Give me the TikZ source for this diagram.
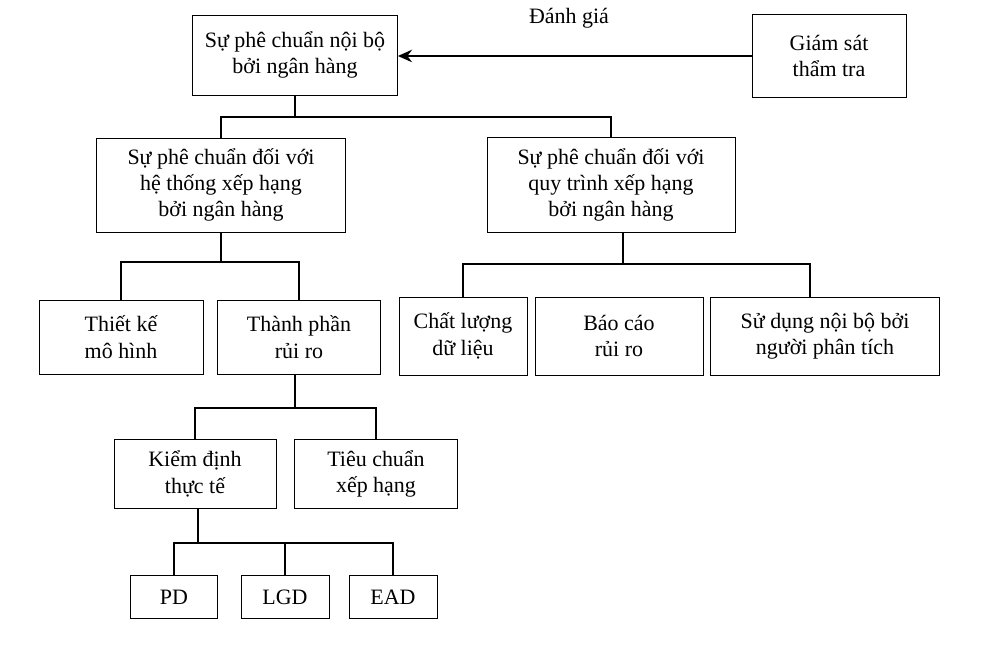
\documentclass[tikz,border=0pt]{standalone}
\usepackage{fontspec}
\setmainfont{Liberation Serif}
\usetikzlibrary{positioning,arrows.meta}
\begin{document}
\begin{tikzpicture}[x=0.02cm, y=-0.02cm, >=stealth,
  box/.style={draw, thin, align=center, inner sep=2pt, font=\fontsize{12.5}{15}\selectfont},
  link/.style={line width=1.3pt}]
\useasboundingbox (0,0) rectangle (993,648);

% Tang tren
\node[box, minimum width=205*0.02cm, minimum height=80*0.02cm] (noibo) at (295,55) {Sự phê chuẩn nội bộ\\bởi ngân hàng};
\node[box, minimum width=154*0.02cm, minimum height=83*0.02cm] (giamsat) at (829,56) {Giám sát\\thẩm tra};
\node[font=\fontsize{12.5}{15}\selectfont] (danhgia) at (569,18) {Đánh giá};

% Tang hai
\node[box, minimum width=249*0.02cm, minimum height=94*0.02cm] (hethong) at (221,185) {Sự phê chuẩn đối với\\hệ thống xếp hạng\\bởi ngân hàng};
\node[box, minimum width=248*0.02cm, minimum height=95*0.02cm] (quytrinh) at (611,185) {Sự phê chuẩn đối với\\quy trình xếp hạng\\bởi ngân hàng};

% Tang ba
\node[box, minimum width=164*0.02cm, minimum height=74*0.02cm] (thietke) at (121,337) {Thiết kế\\mô hình};
\node[box, minimum width=163*0.02cm, minimum height=74*0.02cm] (thanhphan) at (299,337) {Thành phần\\rủi ro};
\node[box, minimum width=128*0.02cm, minimum height=78*0.02cm] (chatluong) at (463,336) {Chất lượng\\dữ liệu};
\node[box, minimum width=168*0.02cm, minimum height=78*0.02cm] (baocao) at (619,336) {Báo cáo\\rủi ro};
\node[box, minimum width=229*0.02cm, minimum height=78*0.02cm] (sudung) at (825,336) {Sử dụng nội bộ bởi\\người phân tích};

% Tang bon
\node[box, minimum width=162*0.02cm, minimum height=69*0.02cm] (kiemdinh) at (195,474) {Kiểm định\\thực tế};
\node[box, minimum width=163*0.02cm, minimum height=69*0.02cm] (tieuchuan) at (376,474) {Tiêu chuẩn\\xếp hạng};

% Tang nam
\node[box, minimum width=87*0.02cm, minimum height=43*0.02cm] (pd) at (174,597) {PD};
\node[box, minimum width=88*0.02cm, minimum height=43*0.02cm] (lgd) at (285,597) {LGD};
\node[box, minimum width=88*0.02cm, minimum height=43*0.02cm] (ead) at (393,597) {EAD};

% Mui ten danh gia
\draw[-{Stealth[length=8pt,width=7pt]}, link] (giamsat.west) -- (giamsat.west -| noibo.east);

% Duong noi
\coordinate (j1) at (295,117);
\coordinate (j2) at (221,262);
\coordinate (j3) at (623,264);
\coordinate (j4) at (295,408);
\coordinate (j5) at (198,543);
\coordinate (s1) at (810,297);
\draw[link] (noibo.south) -- (j1);
\draw[link] (j1) -| (hethong.north);
\draw[link] (j1) -| (quytrinh.north);
\draw[link] (hethong.south) -- (j2);
\draw[link] (j2) -| (thietke.north);
\draw[link] (j2) -| (thanhphan.north);
\draw[link] (quytrinh.south -| j3) -- (j3);
\draw[link] (j3) -| (chatluong.north);
\draw[link] (j3) -| (s1);
\draw[link] (thanhphan.south -| j4) -- (j4);
\draw[link] (j4) -| (kiemdinh.north);
\draw[link] (j4) -| (tieuchuan.north);
\draw[link] (kiemdinh.south -| j5) -- (j5);
\draw[link] (j5) -| (pd.north);
\draw[link] (j5) -| (ead.north);
\draw[link] (j5) -| (lgd.north);
\end{tikzpicture}
\end{document}
